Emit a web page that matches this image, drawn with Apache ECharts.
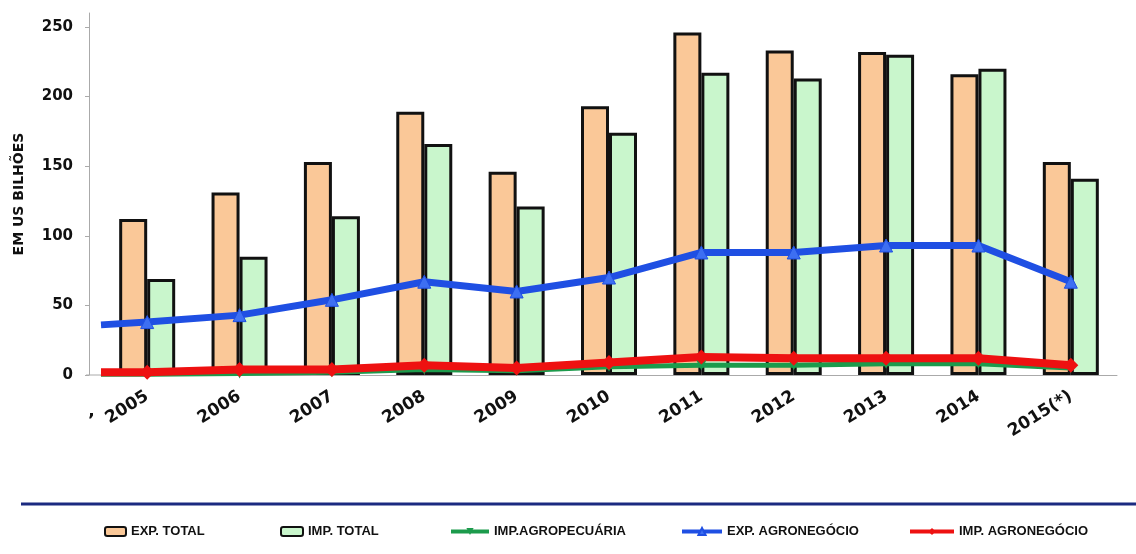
<!DOCTYPE html>
<html>
<head>
<meta charset="utf-8">
<script src="https://cdn.jsdelivr.net/npm/echarts@6/dist/echarts.min.js"></script>
<style>
  html, body { margin: 0; padding: 0; background: #fff; }
  #chart { width: 1136px; height: 554px; }
</style>
</head>
<body>
<div id="chart"></div>
<script>
const years = ['2005', '2006', '2007', '2008', '2009', '2010', '2011', '2012', '2013', '2014', '2015(*)'];
const expTotal = [112, 131, 153, 189, 146, 193, 246, 233, 232, 216, 153];
const impTotal = [69, 85, 114, 166, 121, 174, 217, 213, 230, 220, 141];
const impAgropec = [0.5, 1, 2, 4, 3, 6, 7, 7, 8, 8, 5];
const expAgro = [38, 43, 54, 67, 60, 70, 88, 88, 93, 93, 67];
const impAgro = [2, 4, 4, 7, 5, 9, 13, 12, 12, 12, 7];
// where each line meets the left edge of the plot
const edgeImpAgropec = 0.5;
const edgeExpAgro = 36;
const edgeImpAgro = 2;
const yTicks = [0, 50, 100, 150, 200, 250];

// lines sit on a hidden value axis so they can start at the plot edge
const toPoints = (edge, vals) => [{value: [-0.5, edge], symbolSize: 0}]
    .concat(vals.map((v, i) => [i, v]));

const bold = 'DejaVu Sans';
const chart = echarts.init(document.getElementById('chart'));

const legendText = {fontFamily: 'Liberation Sans', fontWeight: 'bold', fontSize: 13, color: '#111'};
const legendAt = (name, left, w) => ({
    data: [name], left: left, top: 520, itemWidth: w, itemHeight: 9, itemGap: 2,
    textStyle: legendText, selectedMode: false,
    lineStyle: {width: 4}
});

chart.setOption({
    backgroundColor: '#fff',
    animation: false,
    grid: {left: 101, right: 19, top: 13, bottom: 179},
    legend: [
        legendAt('EXP. TOTAL', 99, 21),
        legendAt('IMP. TOTAL', 275, 22),
        legendAt('IMP.AGROPECUÁRIA', 444, 38),
        legendAt('EXP. AGRONEGÓCIO', 675, 40),
        legendAt('IMP. AGRONEGÓCIO', 903, 44)
    ],
    xAxis: [
        {
            type: 'category',
            data: years,
            axisLine: {lineStyle: {color: '#aaa', width: 1}},
            axisTick: {length: 4, lineStyle: {color: '#aaa'}},
            axisLabel: {
                rotate: 32, margin: 20, color: '#111',
                fontFamily: bold, fontWeight: 'bold', fontSize: 17
            }
        },
        {type: 'value', min: -0.5, max: 10.5, show: false}
    ],
    yAxis: {
        type: 'value',
        min: 0, max: 260, interval: 50,
        offset: 12,
        name: 'EM US BILHÕES',
        nameLocation: 'middle',
        nameGap: 63,
        nameTextStyle: {fontFamily: bold, fontWeight: 'bold', fontSize: 14, color: '#111'},
        splitLine: {show: false},
        axisLine: {show: true, onZero: false, lineStyle: {color: '#aaa'}},
        axisTick: {show: true, length: 4, lineStyle: {color: '#aaa'}},
        axisLabel: {
            margin: 16, color: '#111', showMaxLabel: false,
            fontFamily: bold, fontWeight: 'bold', fontSize: 15,
            formatter: v => yTicks.indexOf(v) >= 0 ? v : ''
        }
    },
    graphic: [
        {type: 'line', shape: {x1: 21, y1: 504, x2: 1136, y2: 504},
         style: {stroke: '#1b2a80', lineWidth: 3}},
        {type: 'line', shape: {x1: 86, y1: 375, x2: 101, y2: 375},
         style: {stroke: '#aaa', lineWidth: 1}},
        {type: 'text', x: 88, y: 412,
         style: {text: '’', font: 'bold 18px DejaVu Sans', fill: '#111'}}
    ],
    series: [
        {
            name: 'EXP. TOTAL', type: 'bar', data: expTotal,
            barWidth: 28, barGap: '0%',
            itemStyle: {color: '#FAC898', borderColor: '#111', borderWidth: 3}
        },
        {
            name: 'IMP. TOTAL', type: 'bar', data: impTotal,
            barWidth: 28, barGap: '0%',
            itemStyle: {color: '#C9F6CC', borderColor: '#111', borderWidth: 3}
        },
        {
            name: 'IMP.AGROPECUÁRIA', type: 'line', xAxisIndex: 1,
            data: toPoints(edgeImpAgropec, impAgropec),
            symbol: 'triangle', symbolRotate: 180, symbolSize: 10,
            lineStyle: {color: '#1c9b4c', width: 5},
            itemStyle: {color: '#1c9b4c'}
        },
        {
            name: 'EXP. AGRONEGÓCIO', type: 'line', xAxisIndex: 1,
            data: toPoints(edgeExpAgro, expAgro),
            symbol: 'triangle', symbolSize: 13,
            lineStyle: {color: '#1f4fe3', width: 7},
            itemStyle: {color: '#3d6ff2', borderColor: '#1f4fe3', borderWidth: 1}
        },
        {
            name: 'IMP. AGRONEGÓCIO', type: 'line', xAxisIndex: 1,
            data: toPoints(edgeImpAgro, impAgro),
            symbol: 'diamond', symbolSize: 15,
            lineStyle: {color: '#ee1111', width: 8},
            itemStyle: {color: '#ee1111'}
        }
    ]
});
</script>
</body>
</html>
